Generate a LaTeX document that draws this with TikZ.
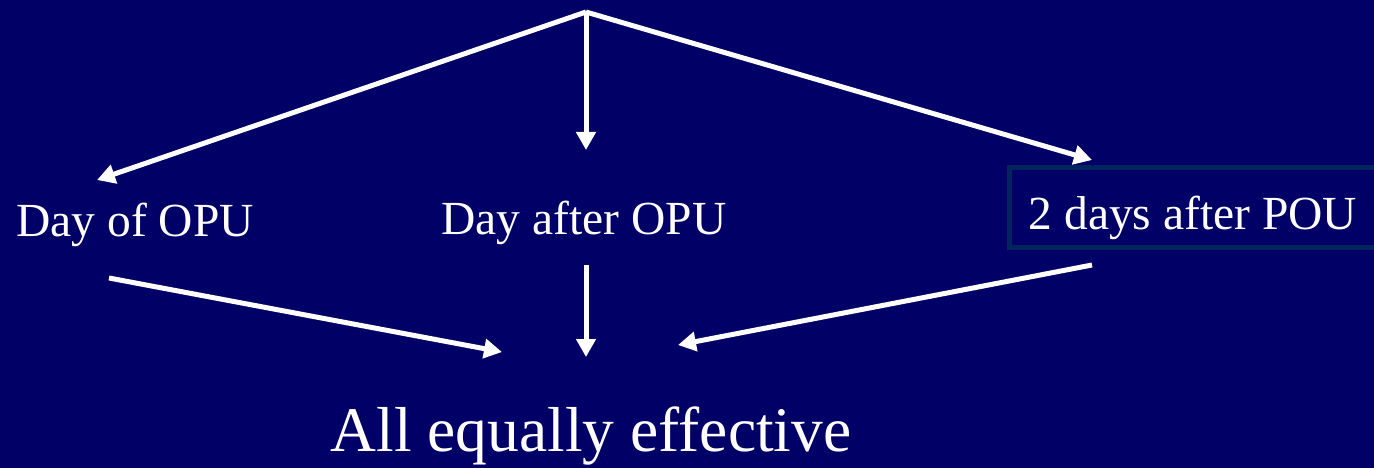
\documentclass[tikz,border=0pt]{standalone}
\usepackage{fontspec}
\setmainfont{Liberation Serif}
\usetikzlibrary{positioning}
\usetikzlibrary{arrows.meta}

\definecolor{slidebg}{RGB}{0,0,102}
\definecolor{boxedge}{RGB}{2,36,92}

\tikzset{
	arr/.style = {white, line width = 5pt, -{Triangle[length = 18pt, width = 19pt]}},
	lbl/.style = {white, anchor = base, inner sep = 0pt, font = \fontsize{47.5}{57}\selectfont},
	big/.style = {white, anchor = base, inner sep = 0pt, font = \fontsize{63.5}{76}\selectfont}
}

\begin{document}
\begin{tikzpicture}[x = 1pt, y = -1pt]
					\fill[slidebg] (0, 0) rectangle (1374, 468);
					\useasboundingbox (0, 0) rectangle (1374, 468);
					\draw[boxedge, line width = 5pt] (1009, 168) rectangle (1390, 247);
					\node[lbl] (dayof) at (135, 236) {Day of OPU};
					\node[lbl] (dayafter) at (584, 234) {Day after OPU};
					\node[lbl] (twodays) at (1193, 229) {2 days after POU};
					\node[big] (equal) at (591, 451) {All equally effective};
					\coordinate (top) at (586, 12);
					\coordinate (toof) at (97, 180);
					\coordinate (toafter) at (586, 150);
					\coordinate (totwo) at (1092, 160);
					\coordinate (fromof) at (109, 278);
					\coordinate (fromafter) at (586, 265);
					\coordinate (fromtwo) at (1092, 265);
					\coordinate (inof) at (502, 352);
					\coordinate (inafter) at (586, 357);
					\coordinate (intwo) at (678, 345);
					\draw[arr] (top)--(toof);
					\draw[arr] (top)--(toafter);
					\draw[arr] (top)--(totwo);
					\draw[arr] (fromof)--(inof);
					\draw[arr] (fromafter)--(inafter);
					\draw[arr] (fromtwo)--(intwo);
				\end{tikzpicture}
\end{document}
